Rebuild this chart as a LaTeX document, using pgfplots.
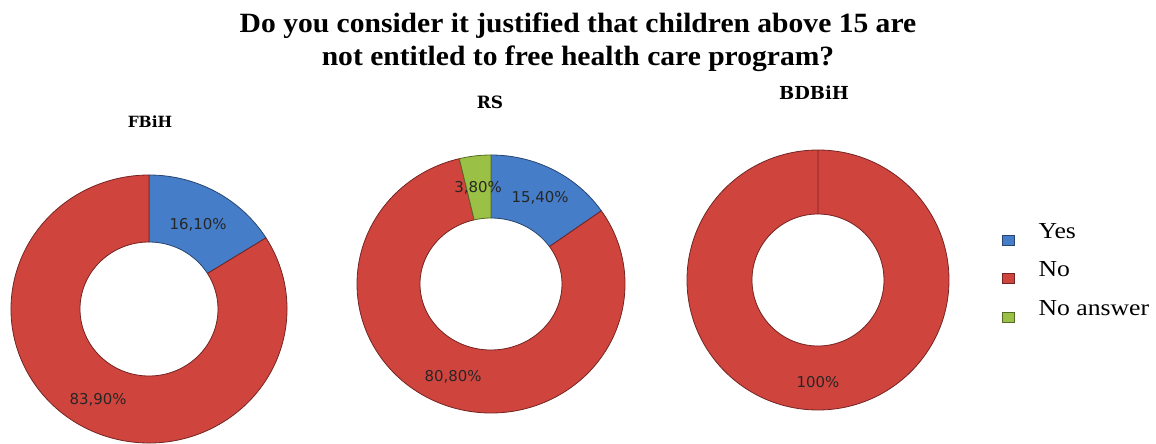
\documentclass[border=0pt]{standalone}
\usepackage{fontspec}
\setmainfont{Liberation Serif}
\newfontfamily\titlefont[FakeStretch=1.06]{Liberation Serif}
\newfontfamily\legfont[FakeStretch=1.12]{Liberation Serif}
\newfontfamily\labfont{DejaVu Sans}
\newfontfamily\subfont{DejaVu Serif}
\usepackage{pgfplots}
\usepackage{pgfplotstable}
\pgfplotsset{compat=1.18}

\definecolor{colYes}{RGB}{70,125,200}
\definecolor{colNo}{RGB}{208,68,62}
\definecolor{colNoAnswer}{RGB}{155,192,70}

% share of answers, percent
\pgfplotstableread{
cat value
Yes 16.1
No 83.9
}\tabFBiH
\pgfplotstableread{
cat value
Yes 15.4
No 80.8
NoAnswer 3.8
}\tabRS
\pgfplotstableread{
cat value
No 100
}\tabBDBiH

% #1 table, #2 cx, #3 cy (from top), #4 outer rx, #5 outer ry, #6 inner rx, #7 inner ry
\newcommand{\donut}[7]{%
  \pgfplotstablegetrowsof{#1}%
  \pgfmathtruncatemacro{\lastrow}{\pgfplotsretval-1}%
  \def\angA{90}%
  \pgfmathsetmacro{\dxr}{#4-#6}%
  \pgfmathsetmacro{\dyr}{#5-#7}%
  \pgfplotsforeachungrouped \r in {0,...,\lastrow}{%
    \pgfplotstablegetelem{\r}{value}\of{#1}\let\val\pgfplotsretval
    \pgfplotstablegetelem{\r}{cat}\of{#1}\edef\col{col\pgfplotsretval}%
    \pgfmathsetmacro{\angB}{\angA-3.6*\val}%
    \pgfmathsetmacro{\angC}{\angB+180}%
    \edef\tmp{\noexpand\filldraw[fill=\col, draw=\col!55!black, line width=0.8pt, line join=round]
      (axis cs:#2,{444-#3}) ++(\angA:#4bp and #5bp)
      arc[start angle=\angA, end angle=\angB, x radius=#4bp, y radius=#5bp]
      -- ++(\angC:{\dxr bp} and {\dyr bp})
      arc[start angle=\angB, end angle=\angA, x radius=#6bp, y radius=#7bp]
      -- cycle;}%
    \tmp
    \let\angA\angB
  }%
}

\begin{document}
\begin{tikzpicture}
\path[use as bounding box] (0,0) rectangle (1156bp,444bp);
\begin{axis}[
  at={(0,0)}, anchor=south west,
  x=1bp, y=1bp, scale only axis,
  xmin=0, xmax=1156, ymin=0, ymax=444,
  hide axis, clip=false,
  legend style={at={(axis cs:1002,{444-222})}, anchor=north west,
    draw=none, fill=none, inner sep=0pt,
    font=\legfont\fontsize{23}{23}\selectfont,
    nodes={inner sep=0pt, text height=16bp, text depth=5bp},
    row sep=16bp, column sep=24bp},
  legend cell align=left,
  legend image code/.code={\filldraw[#1] (0bp,-12bp) rectangle (12bp,-2bp);},
]
\addlegendimage{fill=colYes, draw=colYes!55!black}
\addlegendentry{Yes}
\addlegendimage{fill=colNo, draw=colNo!55!black}
\addlegendentry{No}
\addlegendimage{fill=colNoAnswer, draw=colNoAnswer!55!black}
\addlegendentry{No answer}

\donut{\tabFBiH}{149}{309}{138}{134}{69}{67}
\donut{\tabRS}{491}{284}{134}{129}{71}{66}
\donut{\tabBDBiH}{818}{280}{131}{130}{66}{66}

% title
\node[anchor=base, font=\titlefont\fontsize{28}{28}\selectfont\bfseries] at (axis cs:578,{444-33}) {Do you consider it justified that children above 15 are};
\node[anchor=base, font=\titlefont\fontsize{28}{28}\selectfont\bfseries] at (axis cs:578,{444-65}) {not entitled to free health care program?};

% panel titles
\node[font=\subfont\bfseries\fontsize{15.5}{15.5}\selectfont] at (axis cs:150,{444-122}) {FBiH};
\node[font=\subfont\bfseries\fontsize{17}{17}\selectfont] at (axis cs:490,{444-102}) {RS};
\node[font=\subfont\bfseries\fontsize{18}{18}\selectfont] at (axis cs:814,{444-93}) {BDBiH};

% data labels
\node[font=\labfont\fontsize{15}{15}\selectfont, text=black!85] at (axis cs:198,{444-225}) {16,10\%};
\node[font=\labfont\fontsize{15}{15}\selectfont, text=black!85] at (axis cs:98,{444-400}) {83,90\%};
\node[font=\labfont\fontsize{15}{15}\selectfont, text=black!85] at (axis cs:478,{444-188}) {3,80\%};
\node[font=\labfont\fontsize{15}{15}\selectfont, text=black!85] at (axis cs:540,{444-198}) {15,40\%};
\node[font=\labfont\fontsize{15}{15}\selectfont, text=black!85] at (axis cs:453,{444-377}) {80,80\%};
\node[font=\labfont\fontsize{15}{15}\selectfont, text=black!85] at (axis cs:818,{444-382}) {100\%};
\end{axis}
\end{tikzpicture}
\end{document}
